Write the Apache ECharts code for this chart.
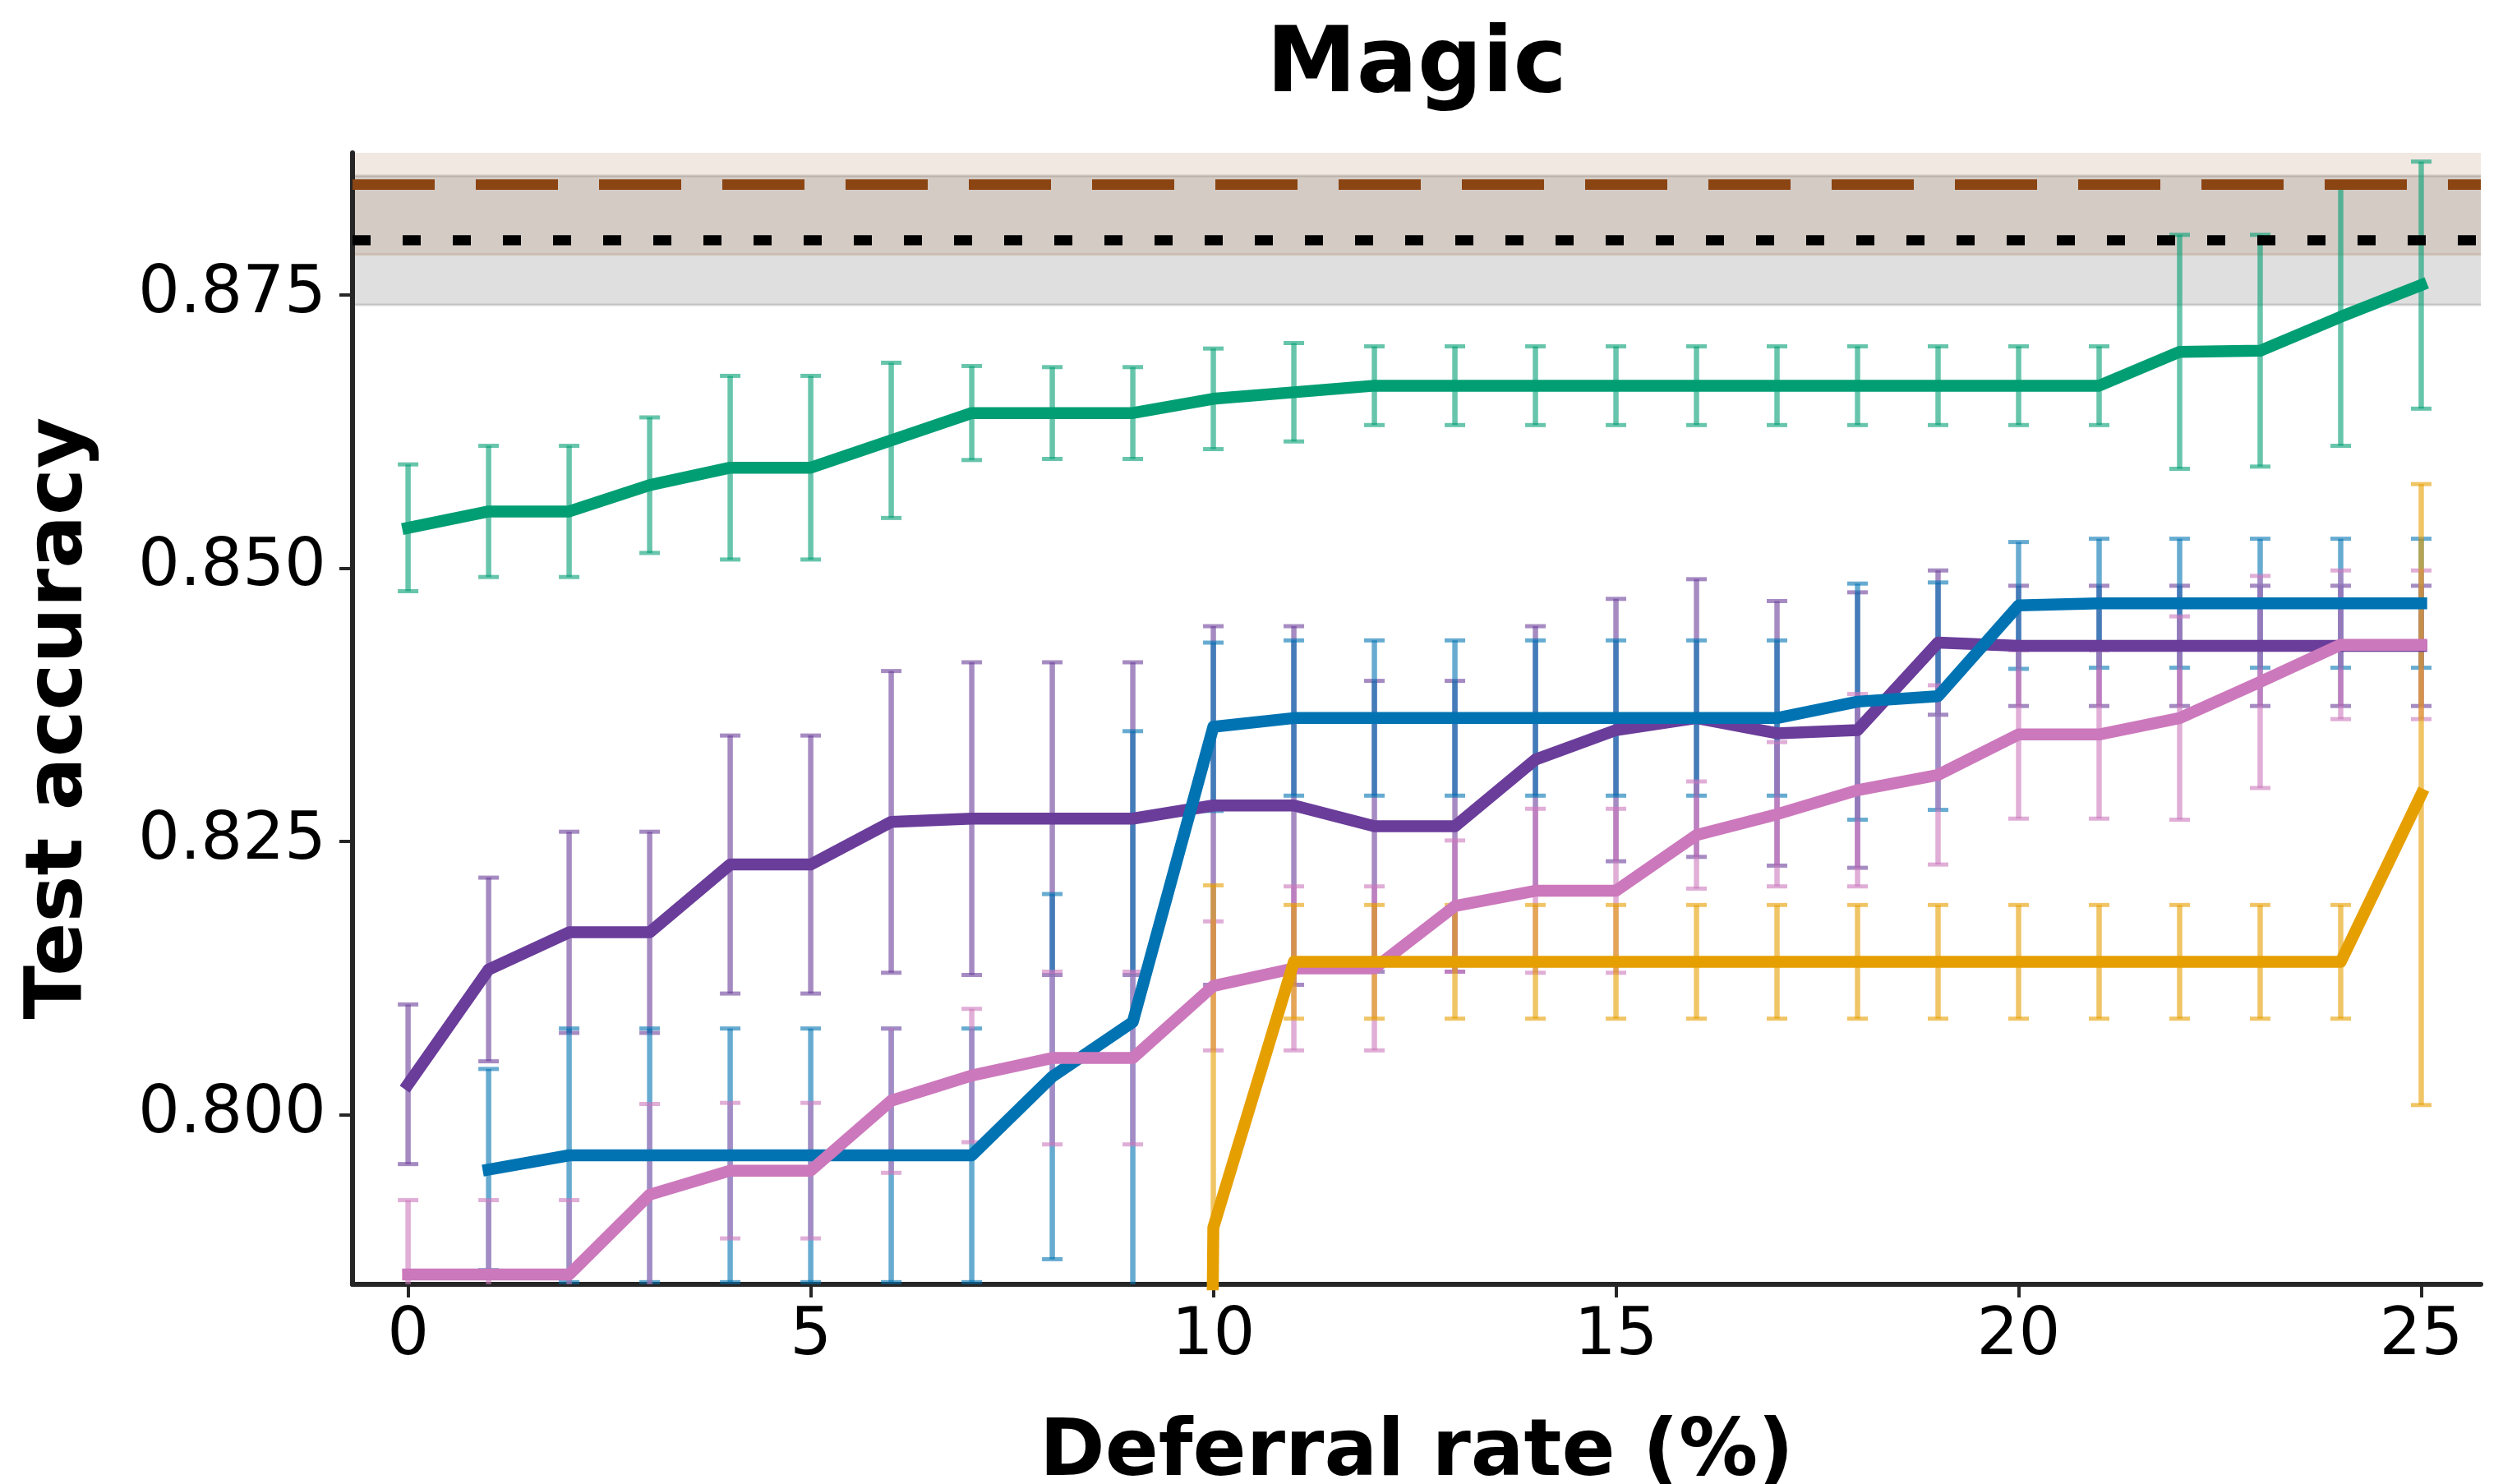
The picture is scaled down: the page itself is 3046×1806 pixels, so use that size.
<!DOCTYPE html>
<html>
<head>
<meta charset="utf-8">
<script src="https://cdn.jsdelivr.net/npm/echarts@6/dist/echarts.min.js"></script>
<style>
  html, body { margin: 0; padding: 0; background: #fff; }
  #chart { width: 3046px; height: 1806px; }
</style>
</head>
<body>
<div id="chart"></div>
<script>
// deferral rate (%) on x
const deferral = [0, 1, 2, 3, 4, 5, 6, 7, 8, 9, 10, 11, 12, 13, 14, 15, 16, 17, 18, 19, 20, 21, 22, 23, 24, 25];

const greenMean = [0.8537, 0.8552, 0.8552, 0.8576, 0.8592, 0.8592, 0.8617, 0.8642, 0.8642, 0.8642, 0.8655, 0.8661, 0.8667,
  0.8667, 0.8667, 0.8667, 0.8667, 0.8667, 0.8667, 0.8667, 0.8667, 0.8667, 0.8698, 0.8699, 0.8730, 0.8759];
const greenStd = [0.0058, 0.0060, 0.0060, 0.0062, 0.0084, 0.0084, 0.0071, 0.0043, 0.0042, 0.0042, 0.0046, 0.0045, 0.0036,
  0.0036, 0.0036, 0.0036, 0.0036, 0.0036, 0.0036, 0.0036, 0.0036, 0.0036, 0.0107, 0.0106, 0.0118, 0.0113];

const blueMean = [null, 0.7950, 0.7963, 0.7963, 0.7963, 0.7963, 0.7963, 0.7963, 0.8035, 0.8085, 0.8355, 0.8363, 0.8363,
  0.8363, 0.8363, 0.8363, 0.8363, 0.8363, 0.8378, 0.8383, 0.8466, 0.8468, 0.8468, 0.8468, 0.8468, 0.8468];
const blueStd = [null, 0.0092, 0.0116, 0.0116, 0.0116, 0.0116, 0.0116, 0.0116, 0.0167, 0.0266, 0.0077, 0.0071, 0.0071,
  0.0071, 0.0071, 0.0071, 0.0071, 0.0071, 0.0108, 0.0104, 0.0058, 0.0059, 0.0059, 0.0059, 0.0059, 0.0059];

const purpleMean = [0.8028, 0.8133, 0.8167, 0.8167, 0.8229, 0.8229, 0.8268, 0.8271, 0.8271, 0.8271, 0.8283, 0.8283, 0.8264,
  0.8264, 0.8325, 0.8352, 0.8363, 0.8349, 0.8352, 0.8432, 0.8429, 0.8429, 0.8429, 0.8429, 0.8429, 0.8429];
const purpleStd = [0.0073, 0.0084, 0.0092, 0.0092, 0.0118, 0.0118, 0.0138, 0.0143, 0.0143, 0.0143, 0.0164, 0.0164, 0.0133,
  0.0133, 0.0122, 0.0120, 0.0127, 0.0121, 0.0126, 0.0066, 0.0055, 0.0055, 0.0055, 0.0055, 0.0055, 0.0055];

const pinkMean = [0.7854, 0.7854, 0.7854, 0.7927, 0.7949, 0.7949, 0.8013, 0.8036, 0.8052, 0.8052, 0.8118, 0.8134, 0.8134,
  0.8191, 0.8205, 0.8205, 0.8256, 0.8275, 0.8297, 0.8311, 0.8348, 0.8348, 0.8363, 0.8396, 0.8430, 0.8430];
const pinkStd = [0.0068, 0.0068, 0.0068, 0.0083, 0.0062, 0.0062, 0.0066, 0.0061, 0.0079, 0.0079, 0.0059, 0.0075, 0.0075,
  0.0060, 0.0075, 0.0075, 0.0049, 0.0066, 0.0088, 0.0082, 0.0077, 0.0077, 0.0093, 0.0097, 0.0068, 0.0068];

// below the visible range before 10 %
const orangeMean = [null, null, null, null, null, null, null, null, null, 0.0, 0.7897, 0.8140, 0.8140,
  0.8140, 0.8140, 0.8140, 0.8140, 0.8140, 0.8140, 0.8140, 0.8140, 0.8140, 0.8140, 0.8140, 0.8140, 0.8293];
const orangeStd = [null, null, null, null, null, null, null, null, null, null, 0.0313, 0.0052, 0.0052,
  0.0052, 0.0052, 0.0052, 0.0052, 0.0052, 0.0052, 0.0052, 0.0052, 0.0052, 0.0052, 0.0052, 0.0052, 0.0284];

// horizontal references (mean, std)
const brownRef = [0.8851, 0.0064];
const blackRef = [0.8800, 0.0059];

const xTicks = [0, 5, 10, 15, 20, 25];
const yTicks = [0.800, 0.825, 0.850, 0.875];

const FONT = 'DejaVu Sans';
const AXIS = '#262626';

function rgba(hex, a) {
  const n = parseInt(hex.slice(1), 16);
  return 'rgba(' + (n >> 16) + ',' + ((n >> 8) & 255) + ',' + (n & 255) + ',' + a + ')';
}

function points(mean) {
  const out = [];
  deferral.forEach((x, i) => { if (mean[i] != null) out.push([x, mean[i]]); });
  return out;
}

function lineSeries(name, color, mean, z) {
  return {
    name: name, type: 'line', data: points(mean), z: z, clip: true,
    showSymbol: false, symbol: 'none', silent: true, animation: false,
    lineStyle: { color: color, width: 14.5, cap: 'square', join: 'round' }
  };
}

function errorSeries(name, color, mean, std) {
  const data = [];
  deferral.forEach((x, i) => {
    if (mean[i] != null && std[i] != null) data.push([x, mean[i], std[i]]);
  });
  const c = rgba(color, 0.6);
  return {
    name: name + ' err', type: 'custom', z: 2, silent: true, animation: false,
    data: data, encode: { x: 0, y: 1 },
    renderItem(params, api) {
      const cs = params.coordSys;
      const x = api.value(0), m = api.value(1), s = api.value(2);
      const top = api.coord([x, m + s]);
      const bot = api.coord([x, m - s]);
      const yMin = cs.y, yMax = cs.y + cs.height;
      const kids = [];
      const y1 = Math.max(top[1], yMin), y2 = Math.min(bot[1], yMax);
      if (y1 < y2) {
        kids.push({ type: 'line', shape: { x1: top[0], y1: y1, x2: top[0], y2: y2 },
          style: { stroke: c, lineWidth: 6.5 } });
      }
      [top[1], bot[1]].forEach(yy => {
        if (yy >= yMin - 1 && yy <= yMax + 1) {
          kids.push({ type: 'line', shape: { x1: top[0] - 12.5, y1: yy, x2: top[0] + 12.5, y2: yy },
            style: { stroke: c, lineWidth: 5 } });
        }
      });
      return { type: 'group', children: kids };
    }
  };
}

function bandSeries(ref, fill, edge) {
  return {
    type: 'custom', z: 0, silent: true, animation: false,
    data: [[0, ref[0] - ref[1], ref[0] + ref[1]]], encode: { x: 0, y: [1, 2] },
    renderItem(params, api) {
      const cs = params.coordSys;
      const yHi = api.coord([0, api.value(2)])[1];
      const yLo = api.coord([0, api.value(1)])[1];
      const t = Math.max(yHi, cs.y), b = Math.min(yLo, cs.y + cs.height);
      const kids = [{ type: 'rect', shape: { x: cs.x, y: t, width: cs.width, height: b - t }, style: { fill: fill } }];
      [yHi, yLo].forEach(yy => {
        if (yy > cs.y && yy < cs.y + cs.height) {
          kids.push({ type: 'line', shape: { x1: cs.x, y1: yy, x2: cs.x + cs.width, y2: yy },
            style: { stroke: edge, lineWidth: 3 } });
        }
      });
      return { type: 'group', children: kids };
    }
  };
}

function refLine(ref, color, width, dash) {
  return {
    type: 'custom', z: 4, silent: true, animation: false,
    data: [[0, ref[0]]], encode: { x: 0, y: 1 },
    renderItem(params, api) {
      const cs = params.coordSys;
      const yy = api.coord([0, api.value(1)])[1];
      return { type: 'line', shape: { x1: cs.x, y1: yy, x2: cs.x + cs.width, y2: yy },
        style: { stroke: color, lineWidth: width, lineDash: dash, lineCap: 'butt' } };
    }
  };
}

const colors = {
  green: '#029e73', blue: '#0173b2', purple: '#6a3d9a', pink: '#cc78bc', orange: '#e69f00',
  brown: '#8b4513'
};

const chart = echarts.init(document.getElementById('chart'), null, { renderer: 'canvas' });

chart.setOption({
  backgroundColor: '#ffffff',
  animation: false,
  grid: { left: 429, top: 186, width: 2590, height: 1377, containLabel: false },
  xAxis: {
    type: 'value', min: -0.69, max: 25.74,
    splitLine: { show: false },
    axisLine: { show: true, onZero: false, lineStyle: { color: AXIS, width: 6 } },
    axisTick: { show: true, customValues: xTicks, length: 16, lineStyle: { color: AXIS, width: 4 } },
    axisLabel: { show: true, customValues: xTicks, margin: 24, fontSize: 80, fontFamily: FONT, color: '#000' }
  },
  yAxis: {
    type: 'value', min: 0.7845, max: 0.888,
    splitLine: { show: false },
    axisLine: { show: true, onZero: false, lineStyle: { color: AXIS, width: 6 } },
    axisTick: { show: true, customValues: yTicks, length: 16, lineStyle: { color: AXIS, width: 4 } },
    axisLabel: { show: true, customValues: yTicks, margin: 32, fontSize: 80, fontFamily: FONT, color: '#000',
      formatter: v => v.toFixed(3) }
  },
  graphic: [
    { type: 'text', x: 1724, y: 82, style: { text: 'Magic', fontSize: 110, fontWeight: 'bold', fontFamily: FONT,
      fill: '#000', align: 'center', verticalAlign: 'middle' } },
    { type: 'text', x: 1724, y: 1770, style: { text: 'Deferral rate (%)', fontSize: 96, fontWeight: 'bold',
      fontFamily: FONT, fill: '#000', align: 'center', verticalAlign: 'middle' } },
    { type: 'text', x: 74, y: 874, rotation: Math.PI / 2, style: { text: 'Test accuracy', fontSize: 96,
      fontWeight: 'bold', fontFamily: FONT, fill: '#000', align: 'center', verticalAlign: 'middle' } }
  ],
  series: [
    bandSeries(blackRef, 'rgba(128,128,128,0.25)', 'rgba(128,128,128,0.3)'),
    bandSeries(brownRef, 'rgba(139,69,19,0.12)', 'rgba(139,69,19,0.15)'),
    errorSeries('green', colors.green, greenMean, greenStd),
    errorSeries('purple', colors.purple, purpleMean, purpleStd),
    errorSeries('blue', colors.blue, blueMean, blueStd),
    errorSeries('pink', colors.pink, pinkMean, pinkStd),
    errorSeries('orange', colors.orange, orangeMean, orangeStd),
    lineSeries('green', colors.green, greenMean, 3),
    lineSeries('purple', colors.purple, purpleMean, 3),
    lineSeries('blue', colors.blue, blueMean, 3),
    lineSeries('pink', colors.pink, pinkMean, 3),
    lineSeries('orange', colors.orange, orangeMean, 3),
    refLine(brownRef, colors.brown, 12.7, [100, 50]),
    refLine(blackRef, '#000000', 12.3, [22, 39])
  ]
});
</script>
</body>
</html>
